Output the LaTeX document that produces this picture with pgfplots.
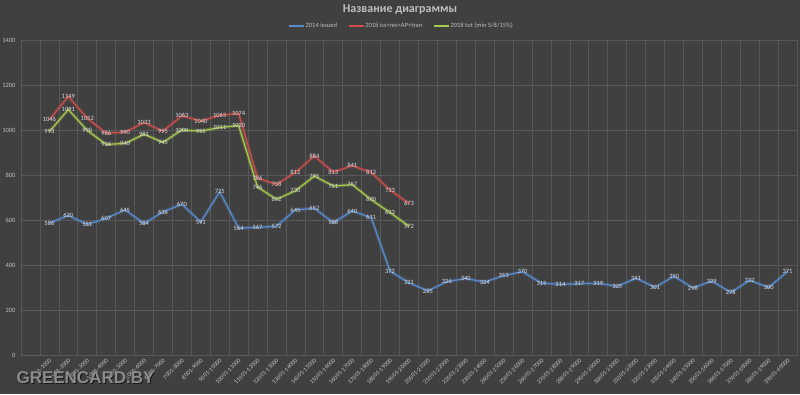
\documentclass[border=0pt]{standalone}
\usepackage{pgfplots}
\pgfplotsset{compat=1.18}
\usepackage{fontspec}
\setmainfont{Carlito}
\newfontfamily\wm{Liberation Sans}
\definecolor{bg}{RGB}{64,64,64}
\definecolor{gridc}{RGB}{88,88,88}
\definecolor{txt}{RGB}{191,191,191}
\definecolor{lbl}{RGB}{220,220,220}
\definecolor{cblue}{RGB}{88,138,205}
\definecolor{cred}{RGB}{205,78,76}
\definecolor{cgreen}{RGB}{168,200,78}
\pgfplotstableread{
x y
1 586
2 620
3 581
4 607
5 645
6 584
7 636
8 670
9 591
10 725
11 564
12 567
13 572
14 645
15 652
16 588
17 640
18 611
19 372
20 321
21 285
22 326
23 340
24 324
25 353
26 370
27 319
28 314
29 317
30 319
31 305
32 341
33 301
34 350
35 298
36 329
37 278
38 332
39 300
40 371
}\tblue
\pgfplotstableread{
x y
1 1046
2 1149
3 1052
4 986
5 990
6 1033
7 995
8 1063
9 1040
10 1065
11 1074
12 786
13 758
14 812
15 884
16 813
17 841
18 812
19 733
20 673
}\tred
\pgfplotstableread{
x y
1 993
2 1091
3 998
4 936
5 940
6 981
7 945
8 1000
9 995
10 1011
11 1020
12 746
13 692
14 730
15 795
16 751
17 757
18 690
19 633
20 572
}\tgreen
\begin{document}
\begin{tikzpicture}[x=1pt,y=1pt]
\useasboundingbox (0,0) rectangle (800,394);
\fill[bg] (0,0) rectangle (800,394);
\node[text=txt, font=\bfseries\fontsize{12}{14}\selectfont] at (400,384) {Название диаграммы};
\begin{axis}[at={(21pt,39pt)}, anchor=south west, scale only axis,
  width=776pt, height=315pt,
  xmin=-0.5, xmax=40.5, ymin=0, ymax=1400,
  xtick={0,...,40},
  xticklabels={{},1-1000,1001-2000,2001-3000,3001-4000,4001-5000,5001-6000,6001-7000,7001-8000,8001-9000,9001-10000,10001-11000,11001-12000,12001-13000,13001-14000,14001-15000,15001-16000,16001-17000,17001-18000,18001-19000,19001-20000,20001-21000,21001-22000,22001-23000,23001-24000,24001-25000,25001-26000,26001-27000,27001-28000,28001-29000,29001-30000,30001-31000,31001-32000,32001-33000,33001-34000,34001-35000,35001-36000,36001-37000,37001-38000,38001-39000,39001-40000},
  minor x tick num=1,
  ytick={0,200,...,1400},
  major tick length=0, minor tick length=0,
  xmajorgrids=false, minor x grid style={gridc, line width=0.7pt},
  xminorgrids=true, ymajorgrids=true,
  grid style={gridc, line width=0.7pt},
  axis line style={gridc, line width=0.7pt},
  /pgf/number format/assume math mode=true,
  /pgf/number format/set thousands separator={},
  tick label style={text=txt},
  yticklabel style={font=\fontsize{6.5}{7}\selectfont, xshift=-2pt},
  xticklabel style={font=\fontsize{6.2}{7}\selectfont, rotate=45, anchor=east, yshift=-4pt, xshift=1pt},
  legend style={at={(0.5,1)}, anchor=south, yshift=7pt, xshift=-7pt, draw=none, fill=none,
    font=\fontsize{6.5}{7}\selectfont, legend columns=3,
    nodes={text=txt},
    /tikz/every even column/.append style={column sep=10pt}},
  every node near coord/.append style={anchor=center, text=lbl, font=\fontsize{6.5}{7}\selectfont, inner sep=0.5pt},
]
\addplot[cblue, line width=3.5pt, opacity=0.25, forget plot] table {\tblue};
\addplot[cred, line width=3.5pt, opacity=0.25, forget plot] table {\tred};
\addplot[cgreen, line width=3.5pt, opacity=0.25, forget plot] table {\tgreen};
\addplot[draw=cblue, line width=1.2pt, nodes near coords, forget plot] table {\tblue};
\addplot[draw=cred, line width=1.2pt, nodes near coords, forget plot] table {\tred};
\addplot[draw=cgreen, line width=1.2pt, nodes near coords, forget plot] table {\tgreen};
\addlegendimage{legend image code/.code={\fill[cblue] (0pt,-0.65pt) rectangle (14pt,0.65pt);}}
\addlegendentry{2014 issued}
\addlegendimage{legend image code/.code={\fill[cred] (0pt,-0.65pt) rectangle (14pt,0.65pt);}}
\addlegendentry{2018 iss+res+AP+tran}
\addlegendimage{legend image code/.code={\fill[cgreen] (0pt,-0.65pt) rectangle (14pt,0.65pt);}}
\addlegendentry{2018 tot (min 5/8/15\%)}
\end{axis}
\node[anchor=west, text=black, opacity=0.6, font=\wm\bfseries\fontsize{17}{19}\selectfont] at (14,15) {GREENCARD.BY};
\node[anchor=west, text={rgb,255:red,140;green,140;blue,140}, font=\wm\bfseries\fontsize{17}{19}\selectfont] at (13,16) {GREENCARD.BY};
\end{tikzpicture}
\end{document}
